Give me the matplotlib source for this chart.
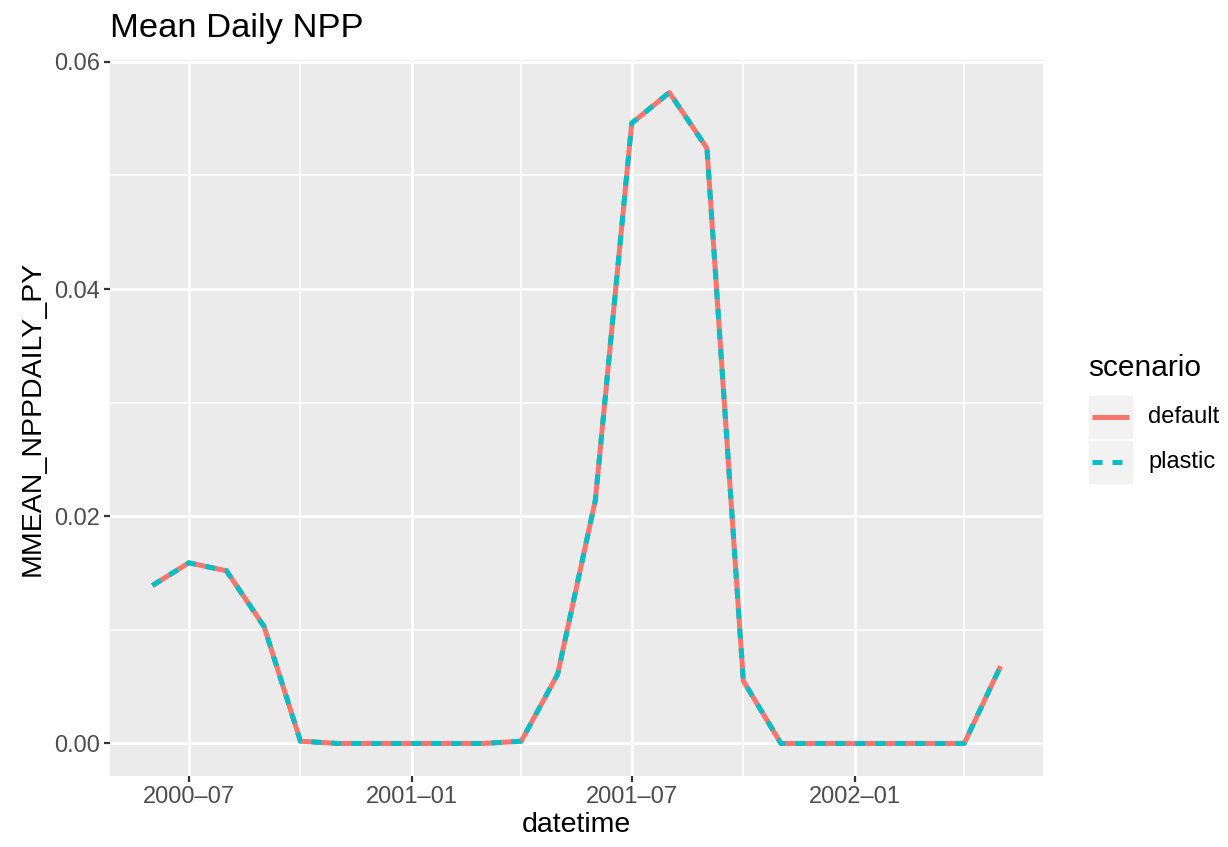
import numpy as np
import pandas as pd
import matplotlib
matplotlib.use("Agg")
import matplotlib.pyplot as plt
import matplotlib.dates as mdates
from matplotlib.lines import Line2D

plt.rcParams["font.family"] = ["Liberation Sans", "DejaVu Sans"]

# monthly values
dates = pd.date_range("2000-06-01", "2002-05-01", freq="MS")
npp_default = [0.0139, 0.0159, 0.0152, 0.0103, 0.0002, 0.0, 0.0, 0.0, 0.0, 0.0,
               0.0002, 0.0061, 0.0214, 0.0546, 0.0573, 0.0524, 0.0055, 0.0,
               0.0, 0.0, 0.0, 0.0, 0.0, 0.0068]
npp_plastic = list(npp_default)
scenarios = ["default", "plastic"]
colors = ["#F8766D", "#00BFC4"]

W, H = 1228, 847
fig = plt.figure(figsize=(W / 100, H / 100), dpi=100)
ax = fig.add_axes([110 / W, 1 - 776 / H, (1043 - 110) / W, (776 - 60) / H])
ax.set_facecolor("#EBEBEB")

ax.plot(dates, npp_default, color=colors[0], lw=3.6, solid_capstyle="butt", zorder=3)
ax.plot(dates, npp_plastic, color=colors[1], lw=3.6, dashes=(2, 2),
        dash_capstyle="butt", zorder=4)

# ggplot-style 5% expansion
xnum = mdates.date2num(dates)
xr = xnum.max() - xnum.min()
ax.set_xlim(xnum.min() - 0.05 * xr, xnum.max() + 0.05 * xr)
yall = np.array(npp_default)
yr = yall.max() - yall.min()
ax.set_ylim(yall.min() - 0.05 * yr, yall.max() + 0.05 * yr)

major_x = pd.to_datetime(["2000-07-01", "2001-01-01", "2001-07-01", "2002-01-01"])
minor_x = pd.to_datetime(["2000-10-01", "2001-04-01", "2001-10-01", "2002-04-01"])
ax.set_xticks(mdates.date2num(major_x))
ax.set_xticklabels([d.strftime("%Y\u2013%m") for d in major_x])
ax.set_xticks(mdates.date2num(minor_x), minor=True)
ax.set_yticks([0.0, 0.02, 0.04, 0.06])
ax.set_yticklabels(["0.00", "0.02", "0.04", "0.06"])
ax.set_yticks([0.01, 0.03, 0.05], minor=True)

ax.grid(which="major", color="white", lw=2.2)
ax.grid(which="minor", color="white", lw=1.1)
ax.set_axisbelow(True)
for s in ax.spines.values():
    s.set_visible(False)
ax.tick_params(which="major", length=4, width=1.6, color="#333333",
               labelcolor="#4D4D4D", labelsize=17, pad=3)
ax.tick_params(which="minor", length=0)

ax.set_xlabel("datetime", fontsize=20.5, labelpad=3)
ax.set_ylabel("MMEAN_NPPDAILY_PY", fontsize=20.5, labelpad=6)
fig.text(110 / W, 1 - 28 / H, "Mean Daily NPP", fontsize=24.8, va="center", ha="left")

# legend drawn by hand, ggplot style
fig.text(1088 / W, 1 - 368 / H, "scenario", fontsize=21.5, va="center", ha="left")
key_tops = [396, 441]
styles = [dict(), dict(dashes=(2, 2), dash_capstyle="butt")]
for name, col, top, st in zip(scenarios, colors, key_tops, styles):
    fig.patches.append(plt.Rectangle((1089 / W, 1 - (top + 42) / H), 43 / W, 42 / H,
                                     transform=fig.transFigure, color="#F2F2F2",
                                     zorder=0))
    yc = 1 - (top + 21) / H
    fig.lines.append(Line2D([1092 / W, 1129 / W], [yc, yc], transform=fig.transFigure,
                            color=col, lw=3.6, solid_capstyle="butt", **st))
    fig.text(1148 / W, yc, name, fontsize=17, va="center", ha="left")

fig.savefig("out.png", dpi=100)
